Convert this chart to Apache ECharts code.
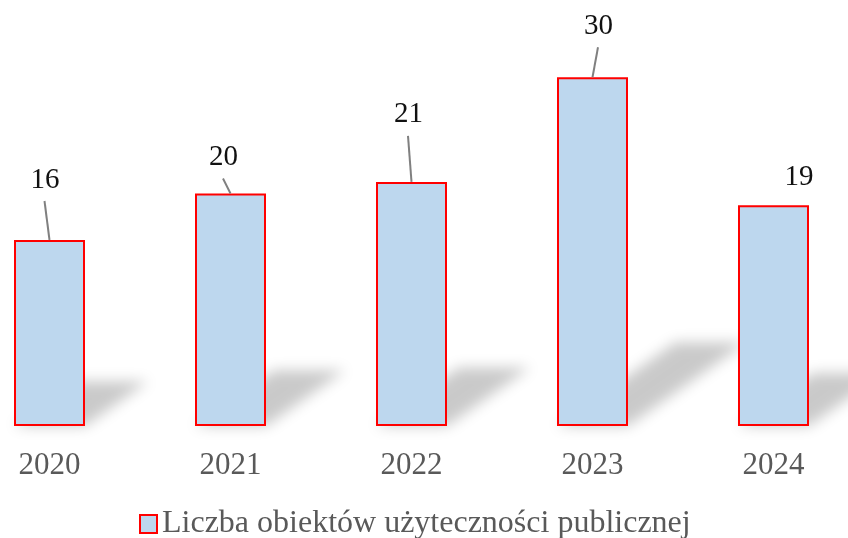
<!DOCTYPE html>
<html>
<head>
<meta charset="utf-8">
<style>
  html, body { margin: 0; padding: 0; background: #ffffff; overflow: hidden; width: 848px; height: 538px; position: relative; }
  /* the plot runs past both window edges, so the container is wider than the page */
  #chart { position: absolute; left: -41px; top: 0; width: 905px; height: 538px; }
</style>
<script src="https://cdn.jsdelivr.net/npm/echarts@6/dist/echarts.min.js"></script>
</head>
<body>
<div id="chart"></div>
<script>
// Number of public-utility buildings per year
const years = ['2020', '2021', '2022', '2023', '2024'];
const counts = [16, 20, 21, 30, 19];
const seriesName = 'Liczba obiektów użyteczności publicznej';

// Value-label placement, relative to the top centre of each bar (px)
const labelOffsets = [[-4.5, -60], [-7, -36], [-3, -67], [6, -51], [25.5, -28]];
const leaderLines = [true, true, true, true, false];

const serif = 'Liberation Serif, Times New Roman, serif';
const BAR_W = 71;
const LEADER_GAP = 21;

const chart = echarts.init(document.getElementById('chart'), null, { renderer: 'canvas' });

// Soft floor shadow cast by each bar toward the upper right
function renderShadow(params, api) {
  const i = api.value(0);
  const base = api.coord([i, 0]);
  const top = api.coord([i, api.value(1)]);
  const h = base[1] - top[1];
  const sx = 0.34 * h, sy = 0.24 * h;
  const x0 = base[0] - BAR_W / 2, x1 = base[0] + BAR_W / 2, y = base[1];
  const shift = 3000;
  return {
    type: 'polygon',
    shape: {
      points: [
        [x0 - shift, y], [x1 - shift, y],
        [x1 + sx - shift, y - sy], [x0 + sx - shift, y - sy]
      ]
    },
    style: {
      fill: '#000',
      shadowColor: 'rgba(0,0,0,0.21)',
      shadowBlur: 14,
      shadowOffsetX: shift,
      shadowOffsetY: 0
    },
    silent: true
  };
}

// Leader line from below a moved value label down to the top of its bar
function renderLeader(params, api) {
  const i = api.value(0);
  if (!leaderLines[i]) return null;
  const top = api.coord([i, api.value(1)]);
  const off = labelOffsets[i];
  return {
    type: 'line',
    shape: {
      x1: top[0] + off[0] - 0.5, y1: top[1] + off[1] + LEADER_GAP,
      x2: top[0], y2: top[1]
    },
    style: { stroke: '#808080', lineWidth: 2 },
    silent: true
  };
}

chart.setOption({
  animation: false,
  grid: { left: 0, right: 0, top: 7.5, bottom: 112, containLabel: false },
  xAxis: {
    type: 'category',
    data: years,
    axisLine: { show: false },
    axisTick: { show: false },
    axisLabel: {
      color: '#595959',
      fontFamily: serif,
      fontSize: 31,
      lineHeight: 31,
      margin: 24
    }
  },
  yAxis: {
    type: 'value',
    min: 0,
    max: 36,
    show: false,
    splitLine: { show: false }
  },
  legend: {
    data: [seriesName],
    left: 175,
    top: 503,
    icon: 'rect',
    itemWidth: 17,
    itemHeight: 18,
    textStyle: { color: '#595959', fontFamily: serif, fontSize: 32 }
  },
  series: [
    {
      type: 'custom',
      renderItem: renderShadow,
      data: counts.map((v, i) => [i, v]),
      z: 1,
      silent: true,
      tooltip: { show: false }
    },
    {
      type: 'custom',
      renderItem: renderLeader,
      data: counts.map((v, i) => [i, v]),
      z: 4,
      silent: true,
      tooltip: { show: false }
    },
    {
      name: seriesName,
      type: 'bar',
      barWidth: BAR_W,
      z: 3,
      data: counts,
      itemStyle: {
        color: '#BDD7EE',
        borderColor: '#FF0000',
        borderWidth: 2
      },
      label: {
        show: true,
        position: 'top',
        distance: 0,
        color: '#111',
        fontFamily: serif,
        fontSize: 29,
        lineHeight: 29
      },
      labelLayout: function (p) {
        const off = labelOffsets[p.dataIndex];
        const tx = p.rect.x + p.rect.width / 2 + off[0];
        const ty = p.rect.y + off[1];
        return {
          dx: tx - (p.labelRect.x + p.labelRect.width / 2),
          dy: ty - (p.labelRect.y + p.labelRect.height / 2)
        };
      }
    }
  ]
});
</script>
</body>
</html>
